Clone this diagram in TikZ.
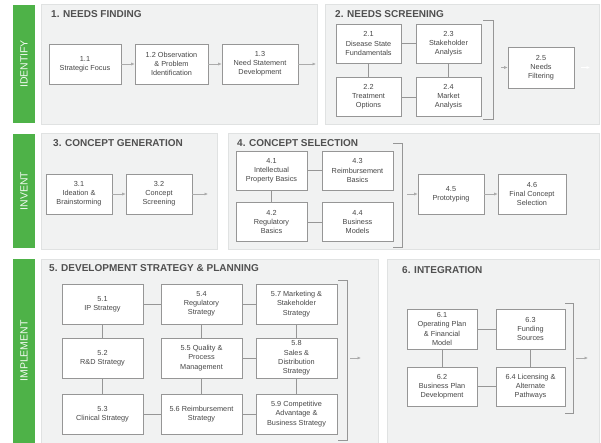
\documentclass[tikz,border=0pt]{standalone}
\usepackage{fontspec}
\setmainfont{Liberation Sans}
\usetikzlibrary{arrows.meta}
\definecolor{phasegreen}{RGB}{78,178,72}
\definecolor{panelfill}{RGB}{241,242,242}
\definecolor{panelline}{RGB}{224,226,226}
\definecolor{boxline}{RGB}{150,150,150}
\definecolor{textgray}{RGB}{70,70,70}
\definecolor{titlegray}{RGB}{80,80,80}
\definecolor{linkgray}{RGB}{150,150,150}
\tikzset{
  stagebox/.style={draw=boxline, fill=white, line width=0.6pt, align=center, text=textgray,
    font=\fontsize{7.3}{9.2}\selectfont, inner sep=1pt, minimum height=40},
  link/.style={draw=linkgray, line width=0.8pt},
  flow/.style={draw=linkgray!80, line width=0.6pt, -{Latex[length=3.5pt,width=3pt]}},
  panel/.style={fill=panelfill, draw=panelline, line width=0.8pt},
  paneltitle/.style={anchor=west, inner sep=0pt, text=titlegray, font=\bfseries\fontsize{10}{11}\selectfont},
  bracket/.style={draw=linkgray, line width=0.8pt},
}
\begin{document}
\begin{tikzpicture}[x=1pt,y=-1pt]
    \useasboundingbox (0,0) rectangle (601,443);
    % phases
    \foreach \top/\bot/\name in {5/123/IDENTIFY, 134/248/INVENT, 259/443/IMPLEMENT} {
        \fill[phasegreen] (13,\top) rectangle (35,\bot);
        \node[rotate=90, text=white!92!phasegreen, font=\fontsize{10.5}{11}\selectfont] at (24,{(\top+\bot)/2}) {\name};
    }
    \draw[panel] (41,4) rectangle (317,124);
    \draw[panel] (325,4) rectangle (599,124);
    \draw[panel] (41,133) rectangle (217,249);
    \draw[panel] (228,133) rectangle (599,249);
    \draw[panel] (41,259) rectangle (378,446);
    \draw[panel] (387,259) rectangle (599,446);
    \node[paneltitle] (t1) at (51,14) {1. NEEDS FINDING};
    \node[paneltitle] (t2) at (335,14) {2. NEEDS SCREENING};
    \node[paneltitle] (t3) at (53,143) {3. CONCEPT GENERATION};
    \node[paneltitle] (t4) at (237,143) {4. CONCEPT SELECTION};
    \node[paneltitle] (t5) at (49,268) {5. DEVELOPMENT STRATEGY \& PLANNING};
    \node[paneltitle] (t6) at (402,270) {6. INTEGRATION};

    % 1. needs finding
    \node[stagebox, minimum width=72] (s11) at (85,64) {1.1\\Strategic Focus};
    \node[stagebox, minimum width=73] (s12) at (171.5,64) {1.2 Observation\\\& Problem\\Identification};
    \node[stagebox, minimum width=76] (s13) at (260,64) {1.3\\Need Statement\\Development};
    \coordinate (o13) at (316,64);
    \draw[flow] (s11) -- (s12);
    \draw[flow] (s12) -- (s13);
    \draw[flow] (s13) -- (o13);

    % 2. needs screening
    \node[stagebox, minimum width=65, minimum height=39] (s21) at (368.5,43.5) {2.1\\Disease State\\Fundamentals};
    \node[stagebox, minimum width=65, minimum height=39] (s22) at (368.5,97) {2.2\\Treatment\\Options};
    \node[stagebox, minimum width=65, minimum height=39] (s23) at (448.5,43.5) {2.3\\Stakeholder\\Analysis};
    \node[stagebox, minimum width=65, minimum height=39] (s24) at (448.5,97) {2.4\\Market\\Analysis};
    \node[stagebox, minimum width=66, minimum height=41] (s25) at (541,67.5) {2.5\\Needs\\Filtering};
    \draw[link] (s21) -- (s23);
    \draw[link] (s22) -- (s24);
    \draw[link] (s21) -- (s22);
    \draw[link] (s23) -- (s24);
    \draw[bracket] (483,20) -- (493,20) -- (493,119) -- (483,119);
    \coordinate (b2) at (501,67.5);
    \coordinate (f25a) at (581,67.5);
    \coordinate (f25b) at (590,67.5);
    \draw[flow] (b2) -- (s25);
    \draw[flow, draw=white] (f25a) -- (f25b);

    % 3. concept generation
    \node[stagebox, minimum width=66] (s31) at (79,194) {3.1\\Ideation \&\\Brainstorming};
    \node[stagebox, minimum width=66] (s32) at (159,194) {3.2\\Concept\\Screening};
    \coordinate (o32) at (208,194);
    \draw[flow] (s31) -- (s32);
    \draw[flow] (s32) -- (o32);

    % 4. concept selection
    \node[stagebox, minimum width=71, minimum height=39] (s41) at (271.5,170.5) {4.1\\Intellectual\\Property Basics};
    \node[stagebox, minimum width=71, minimum height=39] (s42) at (271.5,222) {4.2\\Regulatory\\Basics};
    \node[stagebox, minimum width=71, minimum height=39] (s43) at (357.5,170.5) {4.3\\Reimbursement\\Basics};
    \node[stagebox, minimum width=71, minimum height=39] (s44) at (357.5,222) {4.4\\Business\\Models};
    \node[stagebox, minimum width=66] (s45) at (451,194) {4.5\\Prototyping};
    \node[stagebox, minimum width=68] (s46) at (532,194) {4.6\\Final Concept\\Selection};
    \draw[link] (s41) -- (s43);
    \draw[link] (s42) -- (s44);
    \draw[link] (s41) -- (s42);
    \draw[bracket] (393,143) -- (402,143) -- (402,247) -- (393,247);
    \coordinate (b4) at (407,194);
    \draw[flow] (b4) -- (s45);
    \draw[flow] (s45) -- (s46);

    % 5. development strategy & planning
    \node[stagebox, minimum width=81] (s51) at (102.5,304) {5.1\\IP Strategy};
    \node[stagebox, minimum width=81] (s52) at (102.5,358) {5.2\\R\&D Strategy};
    \node[stagebox, minimum width=81] (s53) at (102.5,414) {5.3\\Clinical Strategy};
    \node[stagebox, minimum width=81] (s54) at (201.5,304) {5.4\\Regulatory\\Strategy};
    \node[stagebox, minimum width=81] (s55) at (201.5,358) {5.5 Quality \&\\Process\\Management};
    \node[stagebox, minimum width=81] (s56) at (201.5,414) {5.6 Reimbursement\\Strategy};
    \node[stagebox, minimum width=81] (s57) at (296.5,304) {5.7 Marketing \&\\Stakeholder\\Strategy};
    \node[stagebox, minimum width=81] (s58) at (296.5,358) {5.8\\Sales \&\\Distribution\\Strategy};
    \node[stagebox, minimum width=81] (s59) at (296.5,414) {5.9 Competitive\\Advantage \&\\Business Strategy};
    \foreach \a/\b in {s51/s52, s52/s53, s54/s55, s55/s56, s57/s58, s58/s59,
                       s51/s54, s54/s57, s55/s58, s53/s56, s56/s59}
        \draw[link] (\a) -- (\b);
    \draw[bracket] (338,280) -- (347,280) -- (347,440) -- (338,440);
    \coordinate (b5a) at (350,358);
    \coordinate (b5b) at (361,358);
    \draw[flow] (b5a) -- (b5b);

    % 6. integration
    \node[stagebox, minimum width=70] (s61) at (442,329) {6.1\\Operating Plan\\\& Financial\\Model};
    \node[stagebox, minimum width=70, minimum height=39] (s62) at (442,386.5) {6.2\\Business Plan\\Development};
    \node[stagebox, minimum width=69] (s63) at (530.5,329) {6.3\\Funding\\Sources};
    \node[stagebox, minimum width=69, minimum height=39] (s64) at (530.5,386.5) {6.4 Licensing \&\\Alternate\\Pathways};
    \draw[link] (s61) -- (s63);
    \draw[link] (s62) -- (s64);
    \draw[link] (s61) -- (s62);
    \draw[link] (s63) -- (s64);
    \draw[bracket] (565,303) -- (573,303) -- (573,413) -- (565,413);
    \coordinate (b6a) at (576,358);
    \coordinate (b6b) at (588,358);
    \draw[flow] (b6a) -- (b6b);
\end{tikzpicture}
\end{document}
